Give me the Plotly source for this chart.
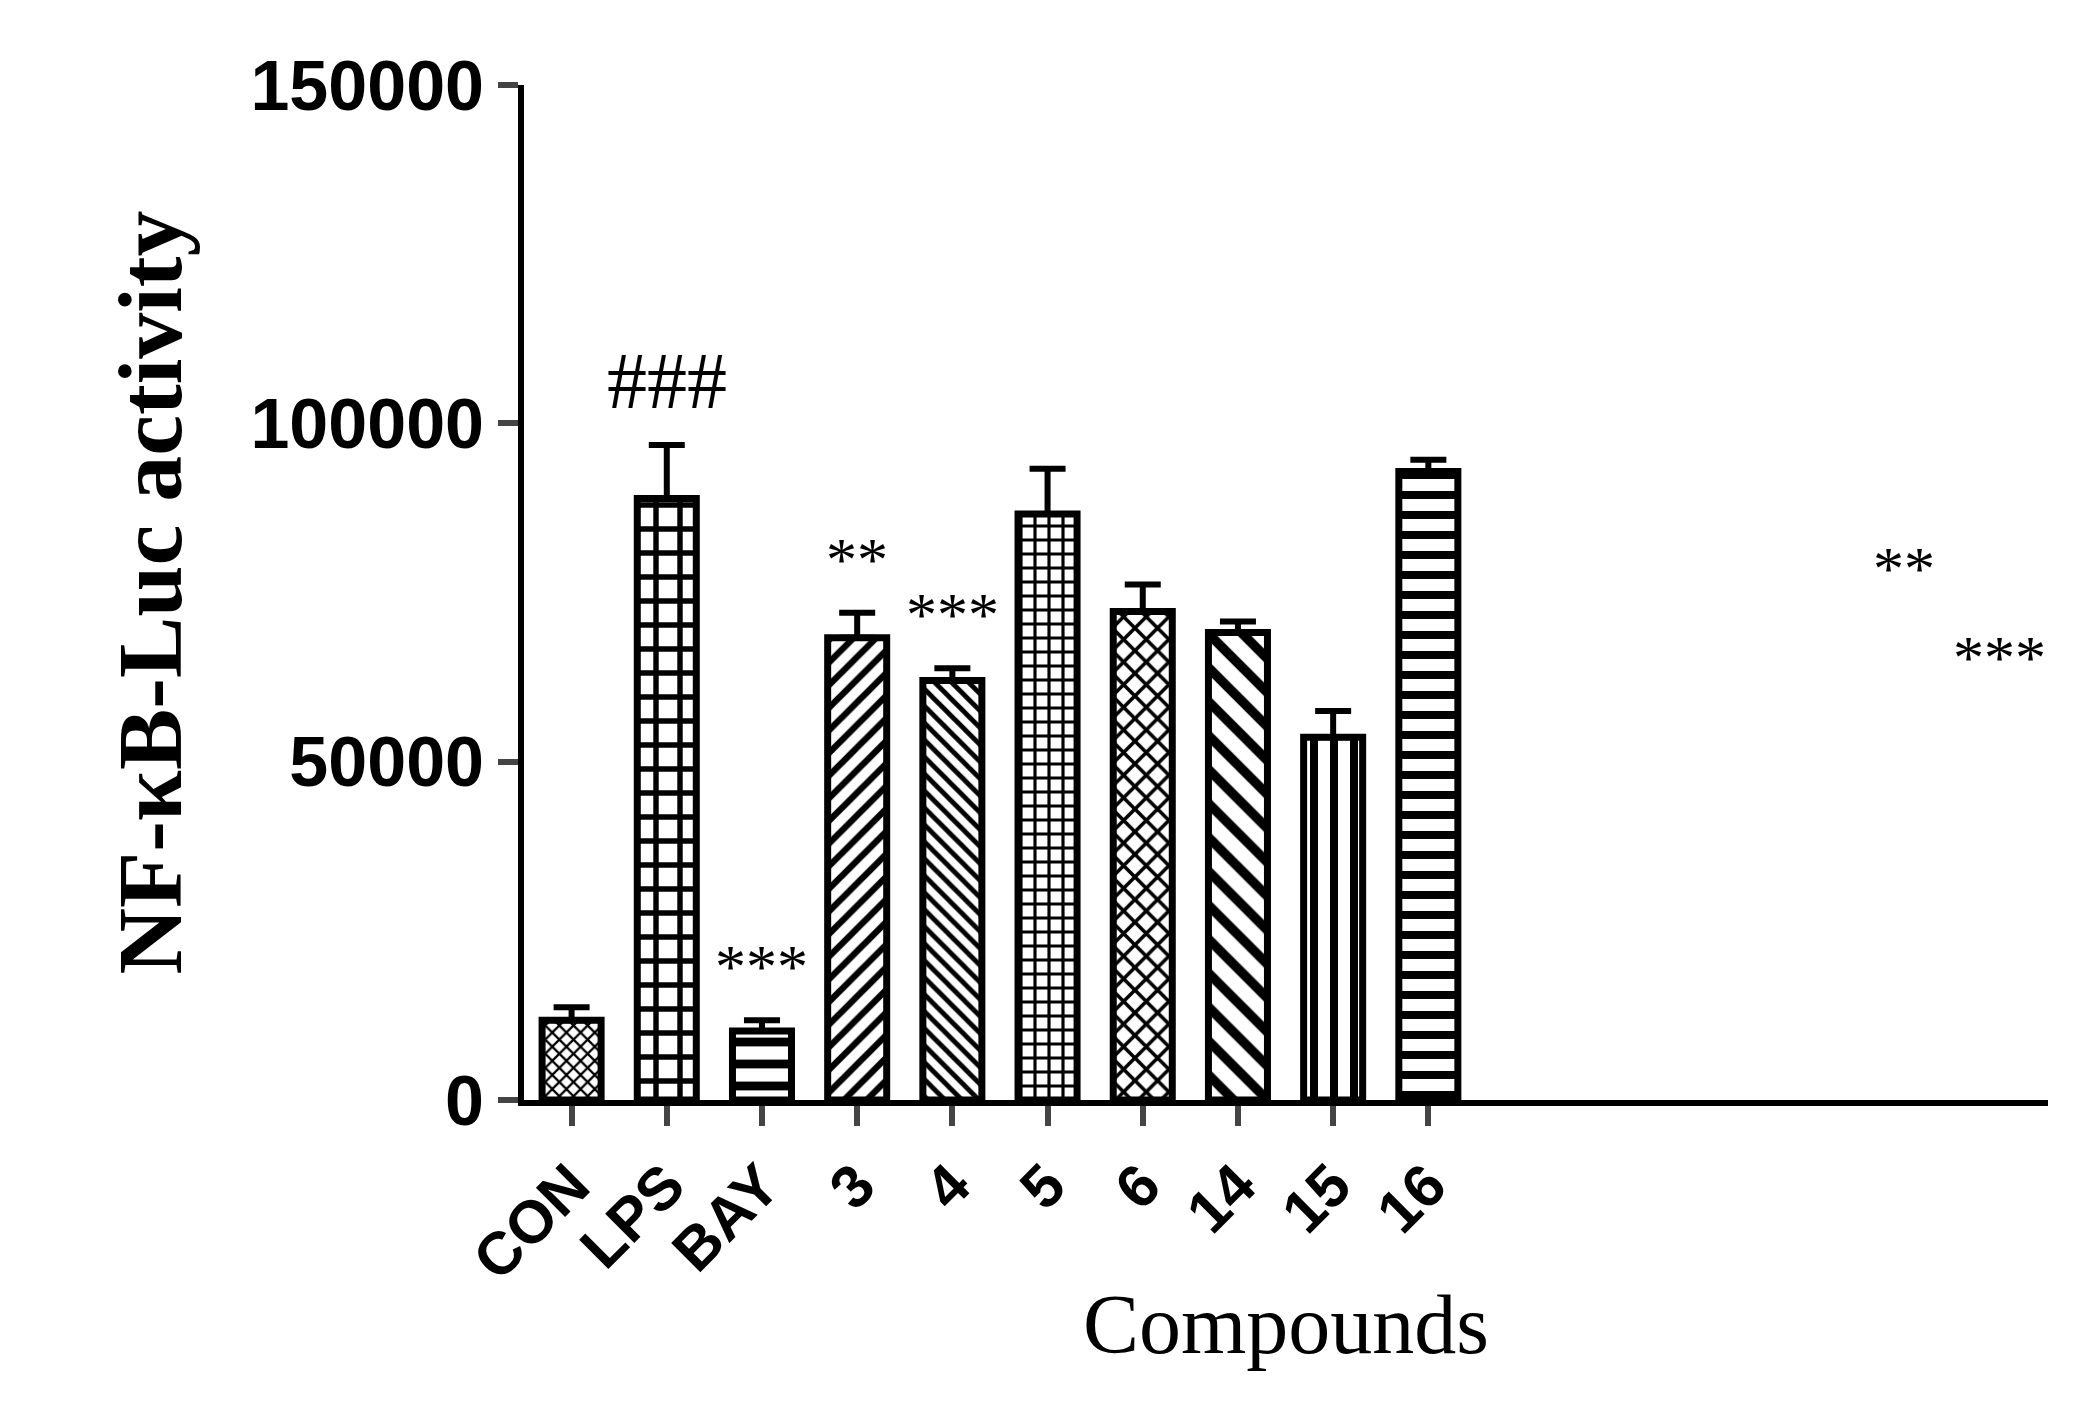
import plotly.graph_objects as go

categories = ["CON", "LPS", "BAY", "3", "4", "5", "6", "14", "15", "16"]
means = [11800, 88900, 10200, 68300, 62000, 86600, 72200, 69100, 53600, 92900]
errors = [1900, 7900, 1600, 3700, 1800, 6700, 4000, 1600, 3900, 1700]
marks = ["", "###", "***", "**", "***", "", "", "**", "***", ""]
patterns = ["x", "+", "-", "/", "\\", "+", "x", "\\", "|", "-"]
pat_sizes = [10, 24, 22, 16, 12, 14, 16, 24, 20, 20]
yticks = [0, 50000, 100000, 150000]
ytick_text = ["0", "50000", "100000", "150000"]

fig = go.Figure(go.Bar(
    x=categories, y=means,
    marker=dict(color="white", line=dict(color="black", width=7),
                pattern=dict(shape=patterns, size=pat_sizes, solidity=0.4,
                             fgcolor="black", fgopacity=1, bgcolor="white", fillmode="overlay")),
    width=0.62,
    error_y=dict(type="data", array=errors, arrayminus=[0]*len(errors), symmetric=False,
                 color="black", thickness=6, width=18),
))

for c, m, e, t in zip(categories, means, errors, marks):
    if t:
        fig.add_annotation(x=c, y=m + e, text=t, showarrow=False, yanchor="bottom", yshift=18,
                           font=dict(family="Liberation Serif", size=80 if t == "###" else 62, color="black"))

fig.update_layout(
    width=2073, height=1425, plot_bgcolor="white", paper_bgcolor="white",
    margin=dict(l=516, r=33, t=77, b=333), showlegend=False,
    xaxis=dict(type="category", showline=True, linecolor="black", linewidth=6, ticks="outside", ticklen=20,
               tickwidth=6, tickangle=-45,
               tickfont=dict(family="Liberation Sans", size=60, color="black", weight="bold"),
               title=dict(text="Compounds", font=dict(family="Liberation Serif", size=84, color="black"),
                          standoff=5)),
    yaxis=dict(range=[0, 150000], tickvals=yticks, ticktext=ytick_text, showline=True,
               linecolor="black", linewidth=6, ticks="outside", ticklen=20, tickwidth=6,
               showgrid=False, zeroline=False,
               tickfont=dict(family="Liberation Sans", size=70, color="black", weight="bold"),
               title=dict(text="NF-κB-Luc activity",
                          font=dict(family="Liberation Serif", size=92, color="black", weight="bold"),
                          standoff=40)),
)
fig.write_html("out.html")
